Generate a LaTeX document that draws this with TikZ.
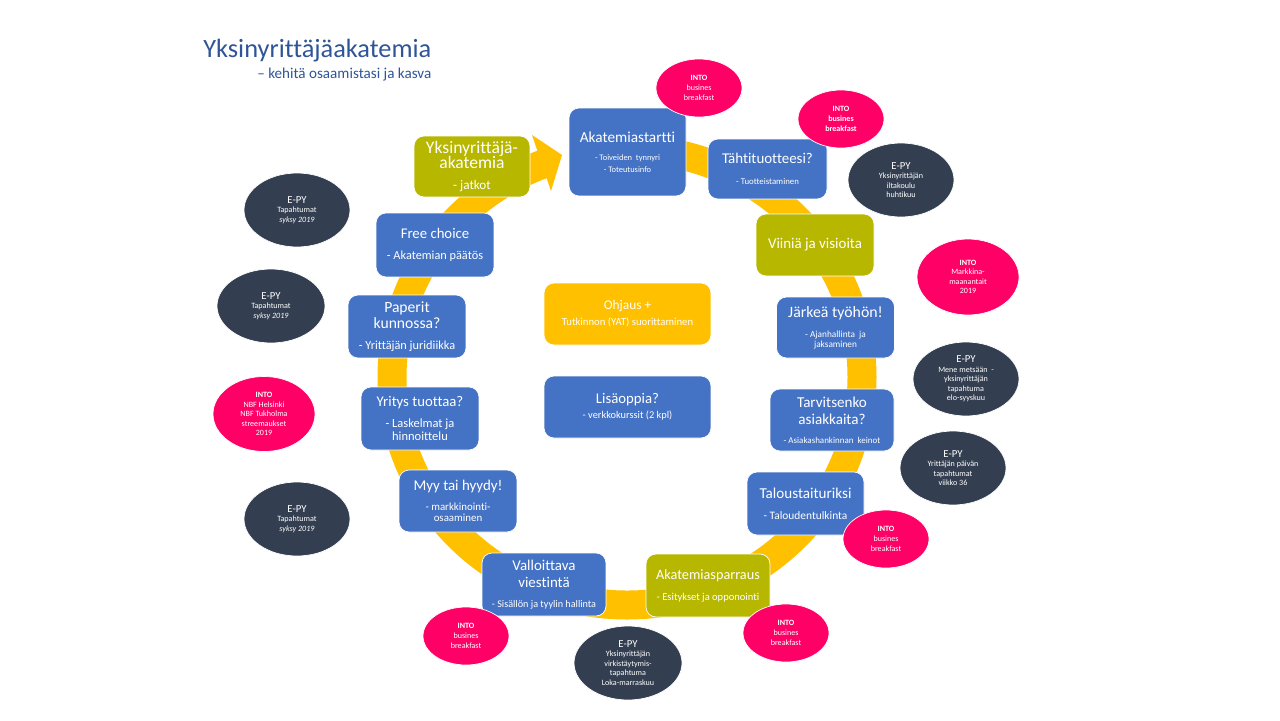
\documentclass[tikz,border=0pt]{standalone}
\usepackage{fontspec}
\setmainfont{Carlito}[Ligatures={NoCommon}]
\usetikzlibrary{shapes.geometric}
\setlength\parindent{0pt}
\definecolor{cblue}{HTML}{4472C4}
\definecolor{colive}{HTML}{B7B700}
\definecolor{cyellow}{HTML}{FFC000}
\definecolor{cpink}{HTML}{FF0066}
\definecolor{cdark}{HTML}{333F50}
\definecolor{ctitle}{HTML}{2F5597}
\newcommand\myfs[2]{\fontsize{#1}{#2}\selectfont}
\tikzset{
  box/.style={rounded corners=0.2cm, draw=white, line width=0.4pt, text=white, align=flush center, inner sep=0pt},
  bluebox/.style={box, fill=cblue},
  olivebox/.style={box, fill=colive},
  yellowbox/.style={box, fill=cyellow},
  sz/.style n args={3}{minimum width=#1cm, minimum height=#2cm, text width=#3cm},
  blob/.style={ellipse, draw=white, line width=0.4pt, text=white, align=flush center, inner sep=0pt},
  pinkblob/.style={blob, fill=cpink, minimum width=1.72cm, minimum height=1.16cm, text width=1.1cm},
  darkblob/.style={blob, fill=cdark, minimum width=2.12cm, minimum height=1.48cm, text width=1.3cm},
  ring/.style={cyellow, line width=0.58cm},
}
\begin{document}
\begin{tikzpicture}[x=0.02cm,y=-0.02cm]
\fill[white] (0,0) rectangle (1280,720);
\useasboundingbox (0,0) rectangle (1280,720);

% title
\node[anchor=base west, text=ctitle, font=\myfs{15}{18}, inner sep=0pt] (title) at (203,57) {Yksinyrittäjäakatemia};
\node[anchor=base west, text=ctitle, font=\myfs{8.6}{10}, inner sep=0pt] (subtitle) at (257,78) {– kehitä osaamistasi ja kasva};

% circular arrow
\draw[ring] (627,149) arc[start angle=-90, end angle=250, x radius=235, y radius=228];
\fill[cyellow] (532,135) -- (562,155) -- (551,191) -- cycle;

% boxes
\node[bluebox, sz={2.34}{1.76}{2.24}] (start) at (627.5,152)
  {\myfs{8.7}{10}Akatemiastartti\par\vspace{3.2pt}\myfs{4.8}{6.8}- Toiveiden\ \ tynnyri\par- Toteutusinfo\par};
\node[bluebox, sz={2.38}{1.2}{2.28}] (taht) at (767.5,169)
  {\myfs{8.5}{10}Tähtituotteesi?\par\vspace{4.9pt}\myfs{5}{7}- Tuotteistaminen\par};
\node[olivebox, sz={2.36}{1.24}{2.26}] (viini) at (815,245)
  {\myfs{8.5}{10}Viiniä ja visioita\par};
\node[bluebox, sz={2.36}{1.22}{2.26}] (jarkea) at (835.5,327.5)
  {\myfs{9}{10}Järkeä työhön!\par\vspace{5.6pt}\myfs{5.3}{5.7}- Ajanhallinta\ \ ja\par jaksaminen\par};
\node[bluebox, sz={2.48}{1.24}{2.38}] (tarv) at (832,420)
  {\myfs{8.6}{9.6}Tarvitsenko\par asiakkaita?\par\vspace{4.8pt}\myfs{5.1}{6}- Asiakashankinnan\ \ keinot\par};
\node[bluebox, sz={2.34}{1.26}{2.24}] (talous) at (805.5,503.5)
  {\myfs{8.6}{10}Taloustaituriksi\par\vspace{4.4pt}\myfs{6.5}{7.5}- Taloudentulkinta\par};
\node[olivebox, sz={2.48}{1.26}{2.38}] (sparraus) at (708,585.5)
  {\myfs{8.1}{10}Akatemiasparraus\par\vspace{4.9pt}\myfs{6}{7}- Esitykset ja opponointi\par};
\node[bluebox, sz={2.48}{1.26}{2.38}] (vallo) at (544,584.5)
  {\myfs{8.5}{9.6}Valloittava\par viestintä\par\vspace{4.3pt}\myfs{5.8}{7}- Sisällön ja tyylin hallinta\par};
\node[bluebox, sz={2.36}{1.24}{2.26}] (myy) at (458,501)
  {\myfs{8.5}{10}Myy tai hyydy!\par\vspace{5.1pt}\myfs{6.2}{6.2}- markkinointi-\par osaaminen\par};
\node[bluebox, sz={2.36}{1.26}{2.26}] (yritys) at (420,418.5)
  {\myfs{8.4}{10}Yritys tuottaa?\par\vspace{4.7pt}\myfs{7.1}{7.2}- Laskelmat ja\par hinnoittelu\par};
\node[bluebox, sz={2.36}{1.26}{2.26}] (paperit) at (407,326.5)
  {\myfs{8.9}{9}Paperit\par kunnossa?\par\vspace{4.4pt}\myfs{7}{7.5}- Yrittäjän juridiikka\par};
\node[bluebox, sz={2.36}{1.28}{2.26}] (free) at (435,245)
  {\myfs{8.4}{10}Free choice\par\vspace{4.4pt}\myfs{7}{7.5}- Akatemian päätös\par};
\node[olivebox, sz={2.32}{1.22}{2.24}] (jatkot) at (472,166.5)
  {\myfs{10}{9}Yksinyrittäjä-\par akatemia\par\vspace{3.9pt}\myfs{7.5}{8}- jatkot\par};
\node[yellowbox, sz={3.34}{1.24}{3.24}] (ohjaus) at (627.5,314)
  {\myfs{7.6}{9}Ohjaus +\par\vspace{2.1pt}\myfs{6.1}{7}Tutkinnon (YAT) suorittaminen\par};
\node[bluebox, sz={3.34}{1.24}{3.24}] (lisa) at (627.5,407)
  {\myfs{8.4}{10}Lisäoppia?\par\vspace{1.5pt}\myfs{5.9}{7}- verkkokurssit (2 kpl)\par};

% event ellipses
\node[pinkblob] (e1) at (699,88)
  {\myfs{4.6}{5.7}\textbf{INTO}\par busines\par breakfast\par};
\node[pinkblob] (e2) at (841,119)
  {\myfs{4.6}{5.7}\bfseries INTO\par busines\par breakfast\par};
\node[darkblob] (e3) at (901,180)
  {\myfs{6.1}{7}E-PY\par\myfs{4.6}{5.4}Yksinyrittäjän\par iltakoulu\par huhtikuu\par};
\node[pinkblob, minimum width=2.04cm, minimum height=1.52cm] (e4) at (968,277)
  {\myfs{4.6}{5.4}\textbf{INTO}\par Markkina-\par maanantait\par 2019\par};
\node[darkblob] (e5) at (966,379)
  {\myfs{6.1}{7}E-PY\par\myfs{4.6}{5.4}Mene metsään\ \ -\par yksinyrittäjän\par tapahtuma\par elo-syyskuu\par};
\node[darkblob] (e6) at (953,468)
  {\myfs{6.1}{7}E-PY\par\myfs{4.6}{5.4}Yrittäjän päivän\par tapahtumat\par viikko 36\par};
\node[pinkblob] (e7) at (886,539)
  {\myfs{4.6}{5.7}\textbf{INTO}\par busines\par breakfast\par};
\node[pinkblob] (e8) at (786,633)
  {\myfs{4.6}{5.7}\textbf{INTO}\par busines\par breakfast\par};
\node[darkblob, minimum width=2.16cm] (e9) at (628,663)
  {\myfs{6.1}{7}E-PY\par\myfs{4.6}{5.4}Yksinyrittäjän\par virkistäytymis-\par tapahtuma\par Loka-marraskuu\par};
\node[pinkblob] (e10) at (466,636)
  {\myfs{4.6}{5.7}\textbf{INTO}\par busines\par breakfast\par};
\node[darkblob] (e11) at (297,519)
  {\myfs{6.1}{7}E-PY\par\myfs{4.6}{5.4}Tapahtumat\par\itshape syksy 2019\par};
\node[pinkblob, minimum width=2.04cm, minimum height=1.5cm] (e12) at (264,414)
  {\myfs{4.6}{5.4}\textbf{INTO}\par NBF Helsinki\par NBF Tukholma\par streemaukset\par 2019\par};
\node[darkblob, minimum width=2.16cm] (e13) at (271,306)
  {\myfs{6.1}{7}E-PY\par\myfs{4.6}{5.4}Tapahtumat\par\itshape syksy 2019\par};
\node[darkblob] (e14) at (297,210)
  {\myfs{6.1}{7}E-PY\par\myfs{4.6}{5.4}Tapahtumat\par\itshape syksy 2019\par};
\end{tikzpicture}
\end{document}
